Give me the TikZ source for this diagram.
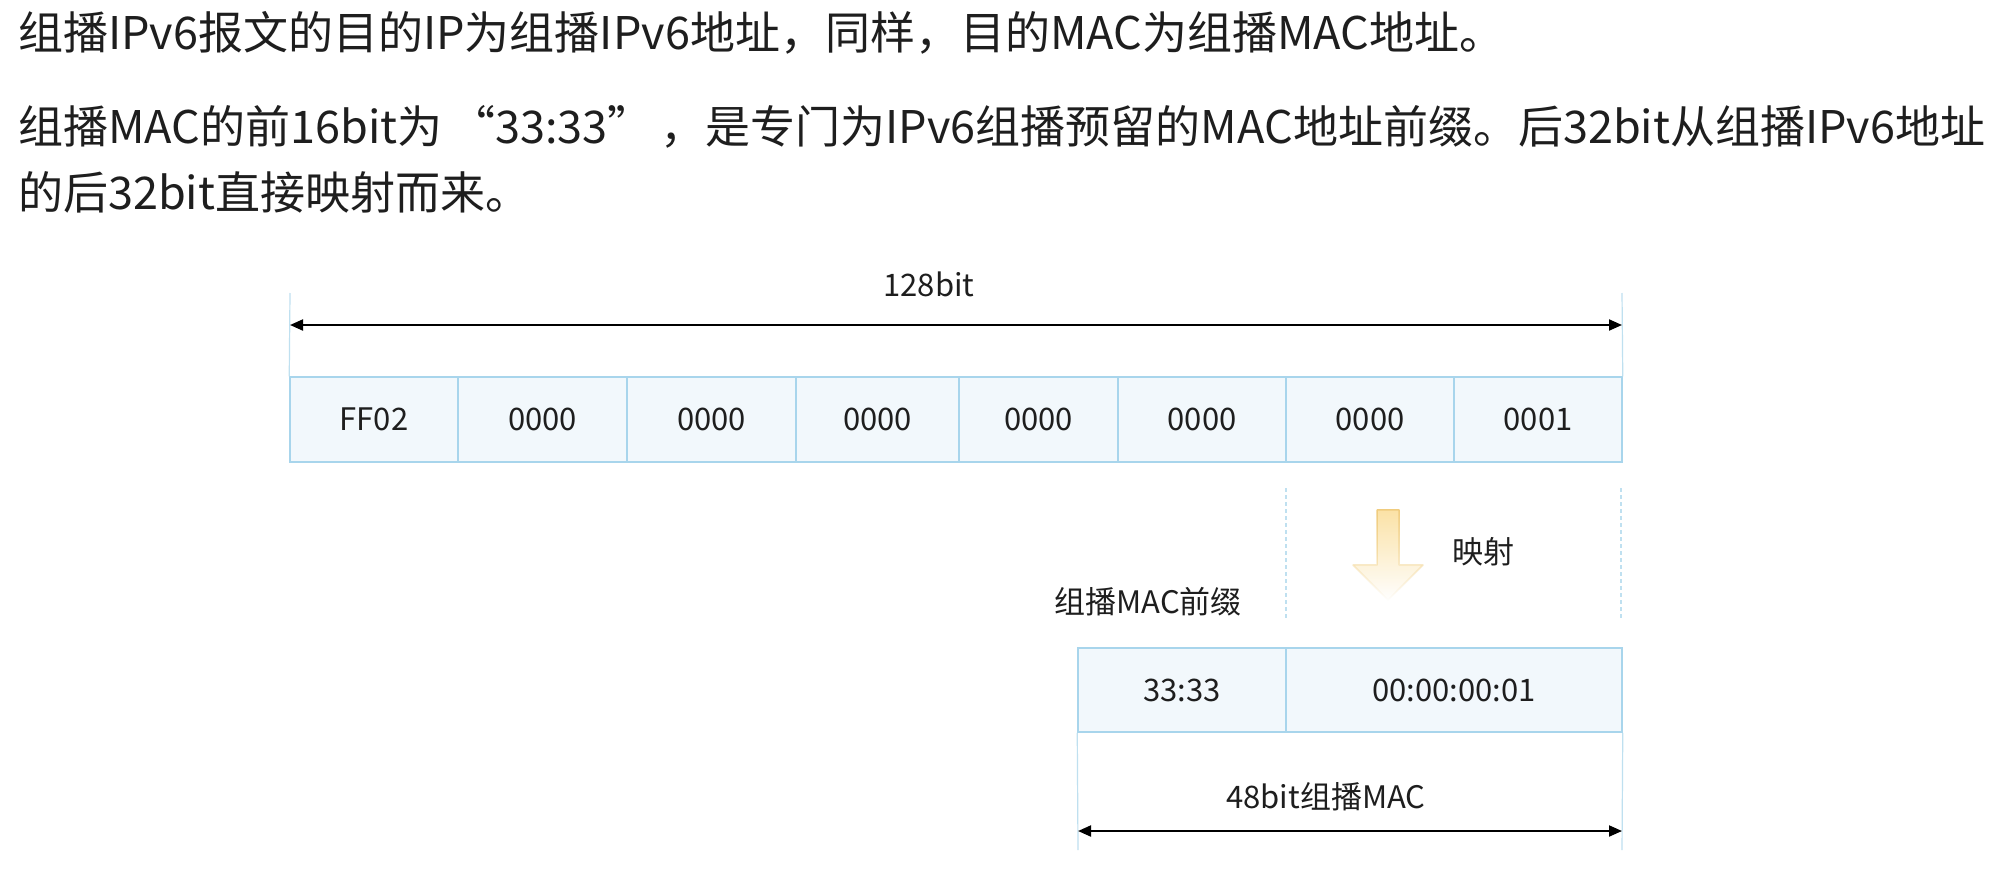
\documentclass[tikz,border=0pt]{standalone}
\usepackage{fontspec}
\setmainfont{Noto Sans CJK SC}
\usetikzlibrary{arrows.meta,fadings}
\definecolor{txt}{HTML}{1E1E1E}
\definecolor{cellfill}{HTML}{F2F8FC}
\definecolor{cellline}{HTML}{A8D5EC}
\definecolor{guidecol}{HTML}{BFE0F0}
\definecolor{yfill}{HTML}{FBE2A6}
\definecolor{yline}{HTML}{F0CC7E}
\begin{document}
\begin{tikzpicture}[x=1pt,y=-1pt,
  cell/.style={draw=cellline, line width=1.5pt, fill=cellfill, inner sep=0pt,
    minimum height=85pt, text=txt, font=\fontsize{31}{37}\selectfont},
  lbl/.style={text=txt, inner sep=0pt, font=\fontsize{31}{37}\selectfont},
  para/.style={text=txt, inner sep=0pt, anchor=west, font=\fontsize{45}{54}\selectfont},
  guideline/.style={draw=guidecol, line width=1.2pt},
  dashguide/.style={draw=guidecol, line width=1.2pt, dash pattern=on 4pt off 3pt},
  dimarrow/.style={draw=black, line width=2pt,
    {Triangle[length=13pt,width=11pt]}-{Triangle[length=13pt,width=11pt]}},
]
\useasboundingbox[fill=white] (0,0) rectangle (1996,870);

% paragraph text
\node[para] (t1) at (18,33) {组播IPv6报文的目的IP为组播IPv6地址，同样，目的MAC为组播MAC地址。};
\node[para] (t2) at (18,127) {组播MAC的前16bit为\hspace{8pt}“33:33”\hspace{8pt}，是专门为IPv6组播预留的MAC地址前缀。后32bit从组播IPv6地址};
\node[para] (t3) at (18,192) {的后32bit直接映射而来。};

% IPv6 address cells
\node[cell, minimum width=168] (c1) at (374,419.5) {FF02};
\node[cell, minimum width=169] (c2) at (542.5,419.5) {0000};
\node[cell, minimum width=169] (c3) at (711.5,419.5) {0000};
\node[cell, minimum width=163] (c4) at (877.5,419.5) {0000};
\node[cell, minimum width=159] (c5) at (1038.5,419.5) {0000};
\node[cell, minimum width=168] (c6) at (1202,419.5) {0000};
\node[cell, minimum width=168] (c7) at (1370,419.5) {0000};
\node[cell, minimum width=168] (c8) at (1538,419.5) {0001};

% 128bit dimension
\coordinate (g1top) at (290,293);
\coordinate (g2top) at (1622,293);
\draw[guideline] (g1top) -- (c1.north west);
\draw[guideline] (g2top) -- (c8.north east);
\coordinate (a1) at (290,325);
\coordinate (a2) at (1622,325);
\draw[dimarrow] (a1) -- (a2);
\node[lbl] (l128) at (929,284) {128bit};

% dashed mapping guides
\coordinate (d1a) at (1286,488);
\coordinate (d1b) at (1286,620);
\coordinate (d2a) at (1621,488);
\coordinate (d2b) at (1621,620);
\draw[dashguide] (d1a) -- (d1b);
\draw[dashguide] (d2a) -- (d2b);

% yellow mapping arrow
\path[fill=yfill, draw=yline, line width=1.5pt, path fading=south, line join=round]
  (1377,510) -- (1399,510) -- (1399,565) -- (1423,565) -- (1388,600)
  -- (1353,565) -- (1377,565) -- cycle;
\node[lbl] (lmap) at (1483,552) {映射};

% MAC cells
\node[lbl, anchor=east] (lpre) at (1242,602) {组播MAC前缀};
\node[cell, minimum width=208, minimum height=84pt] (m1) at (1182,690) {33:33};
\node[cell, minimum width=336, minimum height=84pt] (m2) at (1454,690) {00:00:00:01};

% 48bit dimension
\coordinate (g3bot) at (1078,850);
\coordinate (g4bot) at (1622,850);
\draw[guideline] (m1.south west) -- (g3bot);
\draw[guideline] (m2.south east) -- (g4bot);
\coordinate (b1) at (1078,831);
\coordinate (b2) at (1622,831);
\draw[dimarrow] (b1) -- (b2);
\node[lbl] (l48) at (1326,797) {48bit组播MAC};
\end{tikzpicture}
\end{document}
